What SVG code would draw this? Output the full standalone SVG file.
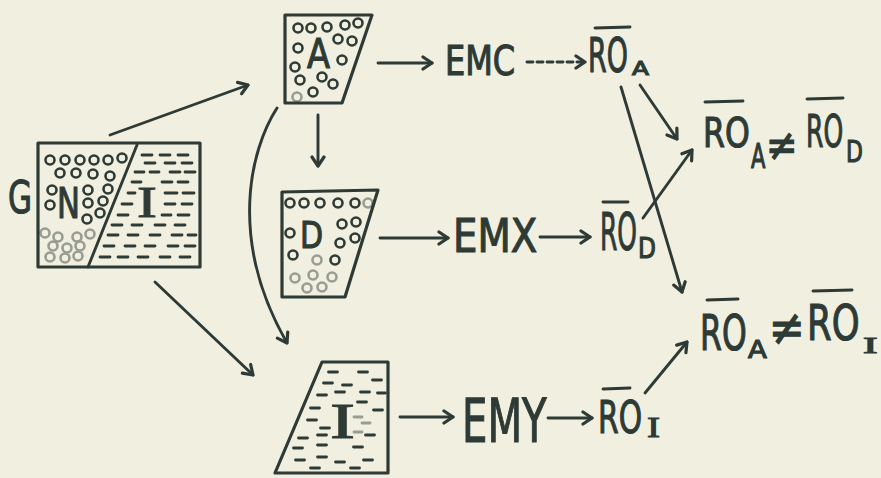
<svg xmlns="http://www.w3.org/2000/svg" width="881" height="478" viewBox="0 0 881 478">
<defs>
<style>
.ink{fill:none;stroke:#2d3a36;stroke-width:2.9;stroke-linecap:round;stroke-linejoin:round}
.box{fill:none;stroke:#2d3a36;stroke-width:3.2;stroke-linejoin:round}
.dot{fill:none;stroke:#2d3a36;stroke-width:2.6}
.faint{opacity:0.45}
.dsh{fill:none;stroke:#2d3a36;stroke-width:2.8;stroke-linecap:round}
.t{font-family:"DejaVu Sans",sans-serif;fill:#2d3a36;stroke:#2d3a36;stroke-width:1.2}
.s{font-family:"Liberation Serif",serif;fill:#2d3a36;stroke:#2d3a36;stroke-width:1}
</style>
<marker id="ah" viewBox="-12 -8 14 16" markerWidth="14" markerHeight="16" refX="0" refY="0" orient="auto" markerUnits="userSpaceOnUse">
<path d="M-9,-6 L0,0 L-9,6" fill="none" stroke="#2d3a36" stroke-width="3.2" stroke-linecap="round" stroke-linejoin="round"/>
</marker>
</defs>
<rect width="881" height="478" fill="#f1efdf"/>

<g id="GNI">
<rect x="38" y="143" width="162" height="124" class="box"/>
<line x1="137" y1="145" x2="88" y2="267" class="ink"/>
<g class="dot">
<circle cx="50" cy="160" r="4.5"/><circle cx="65" cy="160" r="4.5"/><circle cx="80" cy="160" r="4.5"/><circle cx="94" cy="160" r="4.5"/><circle cx="108" cy="160" r="4.5"/><circle cx="122" cy="158" r="4.5"/>
<circle cx="60" cy="173" r="4.5"/><circle cx="76" cy="173" r="4.5"/><circle cx="93" cy="174" r="4.5"/><circle cx="110" cy="176" r="4.5"/>
<circle cx="52" cy="190" r="4.5"/><circle cx="88" cy="190" r="4.5"/><circle cx="108" cy="189" r="4.5"/>
<circle cx="88" cy="203" r="4.5"/><circle cx="103" cy="201" r="4.5"/><circle cx="50" cy="205" r="4.5"/><circle cx="100" cy="213" r="4.5"/><circle cx="87" cy="219" r="4.5"/>
</g>
<g class="dot faint">
<circle cx="45" cy="233" r="4.5"/><circle cx="58" cy="237" r="4.5"/><circle cx="77" cy="237" r="4.5"/><circle cx="90" cy="234" r="4.5"/>
<circle cx="53" cy="246" r="4.5"/><circle cx="67" cy="248" r="4.5"/><circle cx="80" cy="246" r="4.5"/>
<circle cx="50" cy="257" r="4.5"/><circle cx="65" cy="258" r="4.5"/><circle cx="78" cy="256" r="4.5"/>
</g>
<path class="dsh" d="M142,155h10M160,155h10M178,155h10M145,163h10M165,163h10M182,163h10M135,172h9M150,172h9M170,172h10M185,172h10M132,182h9M162,182h10M178,182h10M128,193h7M165,193h12M183,193h11M122,204h10M165,204h10M182,204h10M118,215h10M162,215h9M178,215h11M112,225h10M132,225h10M155,225h10M175,225h10M108,235h10M128,235h10M150,235h10M172,235h10M188,235h8M104,246h10M125,246h10M145,246h10M168,246h10M185,246h10M100,257h10M118,257h10M138,257h10M160,257h10M180,257h10"/>
<text class="t" font-size="45" transform="translate(8,213) scale(0.69,1)">G</text>
<text class="t" font-size="42" transform="translate(57,218) scale(0.73,1)">N</text>
<text class="s" font-size="45" transform="translate(137,217) scale(1.33,1)">I</text>
</g>

<g id="boxA">
<polygon points="285,15 372,15 342,103 285,103" class="box"/>
<g class="dot">
<circle cx="298" cy="28" r="4.5"/><circle cx="311" cy="28" r="4.5"/><circle cx="327" cy="27" r="4.5"/><circle cx="345" cy="25" r="4.5"/><circle cx="358" cy="23" r="4.5"/>
<circle cx="338" cy="39" r="4.5"/><circle cx="352" cy="41" r="4.5"/><circle cx="298" cy="48" r="4.5"/><circle cx="342" cy="60" r="4.5"/><circle cx="295" cy="67" r="4.5"/>
<circle cx="300" cy="80" r="4.5"/><circle cx="322" cy="77" r="4.5"/><circle cx="333" cy="84" r="4.5"/><circle cx="313" cy="92" r="4.5"/>
<circle cx="297" cy="97" r="4.5" class="faint"/>
</g>
<text class="t" font-size="41" transform="translate(307,68) scale(0.82,1)">A</text>
</g>

<g id="boxD">
<polygon points="282,192 378,190 345,297 282,297" class="box"/>
<g class="dot">
<circle cx="290" cy="203" r="4.5"/><circle cx="304" cy="203" r="4.5"/><circle cx="320" cy="203" r="4.5"/><circle cx="338" cy="203" r="4.5"/><circle cx="355" cy="203" r="4.5"/>
<circle cx="356" cy="222" r="4.5"/><circle cx="342" cy="224" r="4.5"/><circle cx="290" cy="233" r="4.5"/><circle cx="340" cy="243" r="4.5"/><circle cx="355" cy="238" r="4.5"/>
<circle cx="293" cy="255" r="4.5"/><circle cx="335" cy="260" r="4.5"/>
</g>
<g class="dot faint">
<circle cx="368" cy="203" r="4.5"/><circle cx="317" cy="260" r="4.5"/><circle cx="295" cy="278" r="4.5"/><circle cx="313" cy="275" r="4.5"/><circle cx="332" cy="277" r="4.5"/><circle cx="307" cy="288" r="4.5"/><circle cx="322" cy="287" r="4.5"/>
</g>
<text class="t" font-size="38" transform="translate(300,248) scale(0.79,1)">D</text>
</g>

<g id="boxI">
<polygon points="322,362 388,362 388,473 275,473" class="box"/>
<path class="dsh" d="M328.5,372h9M358.5,372h9M323.5,383h9M342.5,385h9M372.5,380h9M317.5,395h9M335.5,392h9M360.5,392h9M377.5,393h8M310.5,408h9M357.5,402h9M373.5,410h9M307.5,420h9M320.5,428h9M365.5,435h9M298.5,438h9M317.5,435h9M293.5,448h9M317.5,445h9M353.5,447h9M295.5,460h9M317.5,457h9M335.5,462h9M363.5,460h9M310.5,468h9M350.5,468h9"/>
<path class="dsh faint" d="M354,417h8M354,432h8M362,423h8"/>
<text class="s" font-size="50" transform="translate(330,438) scale(1.5,1)">I</text>
</g>

<g id="EMC">
<text class="t" font-size="41" transform="translate(445,75) scale(0.78,1)">EMC</text>
</g>
<g id="ROA1">
<line x1="595" y1="28" x2="630" y2="27" class="ink"/>
<text class="t" font-size="48" transform="translate(588,72) scale(0.56,1)">RO</text>
<text class="t" font-size="19" transform="translate(632,75) scale(1.3,1)">A</text>
</g>
<g id="EMX">
<text class="t" font-size="46" transform="translate(453,252) scale(0.84,1)">EMX</text>
</g>
<g id="ROD1">
<line x1="603" y1="202" x2="628" y2="202" class="ink"/>
<text class="t" font-size="52" transform="translate(600,250) scale(0.48,1)">RO</text>
<text class="t" font-size="29" transform="translate(638,258) scale(0.8,1)">D</text>
</g>
<g id="EMY">
<text class="t" font-size="60" transform="translate(462,442) scale(0.67,1)">EMY</text>
</g>
<g id="ROI1">
<line x1="603" y1="389" x2="630" y2="388" class="ink"/>
<text class="t" font-size="45" transform="translate(598,433) scale(0.66,1)">RO</text>
<text class="s" font-size="30" transform="translate(647,437) scale(1.3,1)">I</text>
</g>
<g id="NEQ_AD">
<line x1="705" y1="102" x2="743" y2="101" class="ink"/>
<line x1="807" y1="99" x2="843" y2="98" class="ink"/>
<text class="t" font-size="41" transform="translate(703,147) scale(0.77,1)">RO</text>
<text class="t" font-size="34" transform="translate(751,168) scale(0.62,1)">A</text>
<text class="t" font-size="44" transform="translate(766,160) scale(0.86,1)">≠</text>
<text class="t" font-size="44" transform="translate(806,147) scale(0.57,1)">RO</text>
<text class="t" font-size="30" transform="translate(846,162) scale(0.73,1)">D</text>
</g>
<g id="NEQ_AI">
<line x1="707" y1="300" x2="738" y2="299" class="ink"/>
<line x1="813" y1="291" x2="852" y2="290" class="ink"/>
<text class="t" font-size="50" transform="translate(700,350) scale(0.63,1)">RO</text>
<text class="t" font-size="25" transform="translate(748,358) scale(1.1,1)">A</text>
<text class="t" font-size="50" transform="translate(769,345) scale(0.86,1)">≠</text>
<text class="t" font-size="50" transform="translate(807,340) scale(0.71,1)">RO</text>
<text class="s" font-size="23" transform="translate(863,353) scale(1.9,1)">I</text>
</g>

<g id="connectors" class="ink">
<line x1="110" y1="135" x2="248" y2="85" marker-end="url(#ah)"/>
<line x1="155" y1="282" x2="253" y2="375" marker-end="url(#ah)"/>
<line x1="318" y1="115" x2="318" y2="166" marker-end="url(#ah)"/>
<path d="M277,108 C250,150 228,240 287,343" marker-end="url(#ah)"/>
<line x1="378" y1="63" x2="432" y2="63" marker-end="url(#ah)"/>
<line x1="527" y1="62" x2="585" y2="62" stroke-dasharray="6 4" marker-end="url(#ah)"/>
<line x1="640" y1="85" x2="677" y2="139" marker-end="url(#ah)"/>
<line x1="621" y1="87" x2="682" y2="292" marker-end="url(#ah)"/>
<line x1="380" y1="238" x2="448" y2="238" marker-end="url(#ah)"/>
<line x1="540" y1="237" x2="590" y2="237" marker-end="url(#ah)"/>
<line x1="643" y1="218" x2="692" y2="150" marker-end="url(#ah)"/>
<line x1="400" y1="417" x2="453" y2="417" marker-end="url(#ah)"/>
<line x1="548" y1="418" x2="592" y2="418" marker-end="url(#ah)"/>
<line x1="645" y1="393" x2="687" y2="342" marker-end="url(#ah)"/>
</g>
</svg>
